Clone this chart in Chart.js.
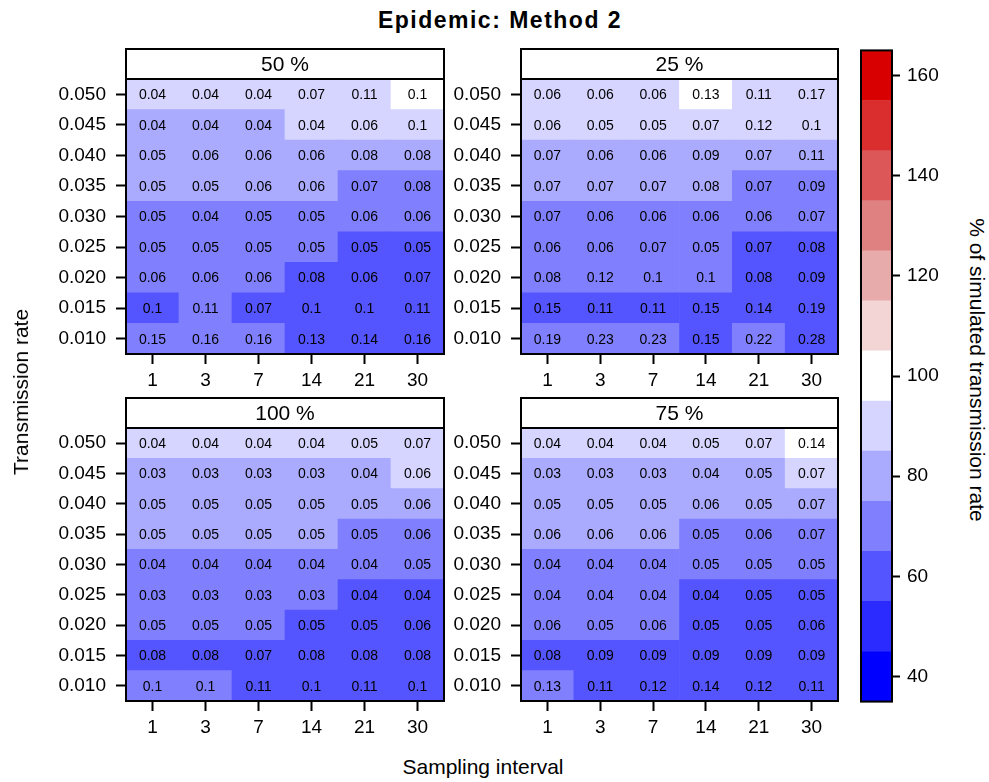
<!DOCTYPE html>
<html lang="en">
  <head>
    <meta charset="UTF-8" />
    <title>Epidemic: Method 2</title>
    <script src="https://cdn.jsdelivr.net/npm/chart.js"></script>
    <style>
      body {
        margin: 0;
        background: #fff;
        font-family: "Liberation Sans", Arial, sans-serif;
        color: #000;
      }
      #page {
        position: relative;
        width: 989px;
        height: 782px;
        overflow: hidden;
      }
      canvas,
      .txt {
        position: absolute;
      }
      .txt {
        white-space: nowrap;
        transform: translate(-50%, -50%);
      }
      #title {
        left: 500px;
        top: 20px;
        font-size: 23px;
        font-weight: bold;
        letter-spacing: 1.5px;
      }
      #xtitle {
        left: 483px;
        top: 767px;
        font-size: 21px;
      }
      #ytitle {
        left: 21px;
        top: 392px;
        font-size: 21px;
        transform: translate(-50%, -50%) rotate(-90deg);
      }
      #keytitle {
        left: 977px;
        top: 370px;
        font-size: 21px;
        transform: translate(-50%, -50%) rotate(90deg);
      }
    </style>
  </head>
  <body>
    <div id="page">
      <div class="txt" id="title">Epidemic: Method 2</div>
      <canvas id="p50" width="420" height="355" style="left: 30px; top: 44px"></canvas>
      <canvas id="p25" width="395" height="355" style="left: 450px; top: 44px"></canvas>
      <canvas id="p100" width="420" height="353" style="left: 30px; top: 393px"></canvas>
      <canvas id="p75" width="395" height="353" style="left: 450px; top: 393px"></canvas>
      <canvas id="key" width="100" height="688" style="left: 850px; top: 32px"></canvas>
      <div class="txt" id="xtitle">Sampling interval</div>
      <div class="txt" id="ytitle">Transmission rate</div>
      <div class="txt" id="keytitle">% of simulated transmission rate</div>
    </div>

    <script>
      // data
      const intervals = ["1", "3", "7", "14", "21", "30"];
      const rates = ["0.050", "0.045", "0.040", "0.035", "0.030", "0.025", "0.020", "0.015", "0.010"];
      const keyBreaks = [35, 45, 55, 65, 75, 85, 95, 105, 115, 125, 135, 145, 155, 165];
      const keyTicks = [40, 60, 80, 100, 120, 140, 160];

      // % of simulated rate (colour), rows top (0.050) to bottom (0.010)
      const pct50 = [
        [90, 90, 90, 90, 90, 100],
        [80, 80, 80, 90, 90, 90],
        [80, 80, 80, 80, 80, 80],
        [80, 80, 80, 80, 70, 70],
        [70, 70, 70, 70, 70, 70],
        [70, 70, 70, 70, 60, 60],
        [70, 70, 70, 60, 60, 60],
        [60, 70, 60, 60, 60, 60],
        [70, 70, 70, 60, 60, 60],
      ];
      const sd50 = [
        [0.04, 0.04, 0.04, 0.07, 0.11, 0.1],
        [0.04, 0.04, 0.04, 0.04, 0.06, 0.1],
        [0.05, 0.06, 0.06, 0.06, 0.08, 0.08],
        [0.05, 0.05, 0.06, 0.06, 0.07, 0.08],
        [0.05, 0.04, 0.05, 0.05, 0.06, 0.06],
        [0.05, 0.05, 0.05, 0.05, 0.05, 0.05],
        [0.06, 0.06, 0.06, 0.08, 0.06, 0.07],
        [0.1, 0.11, 0.07, 0.1, 0.1, 0.11],
        [0.15, 0.16, 0.16, 0.13, 0.14, 0.16],
      ];

      const pct25 = [
        [90, 90, 90, 100, 90, 90],
        [90, 90, 90, 90, 90, 90],
        [80, 80, 80, 80, 80, 80],
        [80, 80, 80, 80, 70, 70],
        [70, 70, 70, 70, 70, 70],
        [70, 70, 70, 70, 60, 60],
        [70, 70, 70, 70, 60, 60],
        [60, 60, 60, 60, 60, 60],
        [70, 70, 70, 60, 70, 60],
      ];
      const sd25 = [
        [0.06, 0.06, 0.06, 0.13, 0.11, 0.17],
        [0.06, 0.05, 0.05, 0.07, 0.12, 0.1],
        [0.07, 0.06, 0.06, 0.09, 0.07, 0.11],
        [0.07, 0.07, 0.07, 0.08, 0.07, 0.09],
        [0.07, 0.06, 0.06, 0.06, 0.06, 0.07],
        [0.06, 0.06, 0.07, 0.05, 0.07, 0.08],
        [0.08, 0.12, 0.1, 0.1, 0.08, 0.09],
        [0.15, 0.11, 0.11, 0.15, 0.14, 0.19],
        [0.19, 0.23, 0.23, 0.15, 0.22, 0.28],
      ];

      const pct100 = [
        [90, 90, 90, 90, 90, 90],
        [80, 80, 80, 80, 80, 90],
        [80, 80, 80, 80, 80, 80],
        [80, 80, 80, 80, 70, 70],
        [70, 70, 70, 70, 70, 70],
        [70, 70, 70, 70, 60, 60],
        [70, 70, 70, 60, 60, 60],
        [60, 60, 60, 60, 60, 60],
        [70, 70, 60, 60, 60, 60],
      ];
      const sd100 = [
        [0.04, 0.04, 0.04, 0.04, 0.05, 0.07],
        [0.03, 0.03, 0.03, 0.03, 0.04, 0.06],
        [0.05, 0.05, 0.05, 0.05, 0.05, 0.06],
        [0.05, 0.05, 0.05, 0.05, 0.05, 0.06],
        [0.04, 0.04, 0.04, 0.04, 0.04, 0.05],
        [0.03, 0.03, 0.03, 0.03, 0.04, 0.04],
        [0.05, 0.05, 0.05, 0.05, 0.05, 0.06],
        [0.08, 0.08, 0.07, 0.08, 0.08, 0.08],
        [0.1, 0.1, 0.11, 0.1, 0.11, 0.1],
      ];

      const pct75 = [
        [90, 90, 90, 90, 90, 100],
        [80, 80, 80, 80, 80, 90],
        [80, 80, 80, 80, 80, 80],
        [80, 80, 80, 70, 70, 70],
        [70, 70, 70, 70, 70, 70],
        [70, 70, 70, 60, 60, 60],
        [70, 70, 70, 60, 60, 60],
        [60, 60, 60, 60, 60, 60],
        [70, 60, 60, 60, 60, 60],
      ];
      const sd75 = [
        [0.04, 0.04, 0.04, 0.05, 0.07, 0.14],
        [0.03, 0.03, 0.03, 0.04, 0.05, 0.07],
        [0.05, 0.05, 0.05, 0.06, 0.05, 0.07],
        [0.06, 0.06, 0.06, 0.05, 0.06, 0.07],
        [0.04, 0.04, 0.04, 0.05, 0.05, 0.05],
        [0.04, 0.04, 0.04, 0.04, 0.05, 0.05],
        [0.06, 0.05, 0.06, 0.05, 0.05, 0.06],
        [0.08, 0.09, 0.09, 0.09, 0.09, 0.09],
        [0.13, 0.11, 0.12, 0.14, 0.12, 0.11],
      ];

      // one colour per key bin
      const keyColors = [
        "#0000ff", "#2b2bff", "#5555ff", "#8080ff", "#aaaaff", "#d5d5ff", "#ffffff",
        "#f3d5d5", "#e8abab", "#e08181", "#dc5757", "#da2d2d", "#d80000",
      ];

      const FONT = "'Liberation Sans', Arial, sans-serif";

      function colorFor(v) {
        for (let i = 0; i < keyColors.length; i++) {
          if (v >= keyBreaks[i] && v < keyBreaks[i + 1]) return keyColors[i];
        }
        return keyColors[keyColors.length - 1];
      }

      // frame, strip and cell text
      const panelDecor = {
        id: "panelDecor",
        afterDatasetsDraw(chart, args, opts) {
          const ctx = chart.ctx;
          const a = chart.chartArea;
          ctx.save();
          ctx.fillStyle = "#000";
          ctx.textAlign = "center";
          ctx.textBaseline = "middle";
          ctx.font = "14px " + FONT;
          chart.data.datasets.forEach((ds, di) => {
            if (!ds.cellText) return;
            chart.getDatasetMeta(di).data.forEach((bar, j) => {
              ctx.fillText(String(ds.cellText[j]), bar.x, (bar.y + bar.base) / 2 + 1);
            });
          });
          ctx.lineWidth = 2;
          ctx.strokeStyle = "#000";
          ctx.strokeRect(a.left, a.top, a.right - a.left, a.bottom - a.top);
          if (opts.title) {
            const h = 30;
            ctx.fillStyle = "#fff";
            ctx.fillRect(a.left, a.top - h, a.right - a.left, h);
            ctx.strokeRect(a.left, a.top - h, a.right - a.left, h);
            ctx.fillStyle = "#000";
            ctx.font = "21px " + FONT;
            ctx.fillText(opts.title, (a.left + a.right) / 2, a.top - h / 2 + 1);
          }
          ctx.restore();
        },
      };

      function tickGrid(len) {
        return {
          display: true,
          drawOnChartArea: false,
          drawTicks: true,
          tickLength: len,
          tickColor: "#000",
          tickWidth: 2,
          offset: false,
        };
      }

      function makePanel(id, title, pct, sd, yWidth, padRight) {
        const datasets = [];
        for (let r = rates.length - 1; r >= 0; r--) {
          datasets.push({
            data: intervals.map(() => 1),
            backgroundColor: pct[r].map(colorFor),
            cellText: sd[r],
            borderWidth: 0,
            barPercentage: 1,
            categoryPercentage: 1,
          });
        }
        new Chart(document.getElementById(id), {
          type: "bar",
          data: { labels: intervals, datasets },
          options: {
            responsive: false,
            animation: false,
            events: [],
            layout: { padding: { top: 35, right: padRight, left: 0, bottom: 0 } },
            plugins: {
              legend: { display: false },
              tooltip: { enabled: false },
              panelDecor: { title },
            },
            scales: {
              x: {
                stacked: true,
                grid: tickGrid(10),
                border: { display: false },
                ticks: { color: "#000", font: { size: 19, family: FONT }, padding: 5 },
                afterFit(s) {
                  s.height = 45;
                },
              },
              y: {
                stacked: true,
                min: 0,
                max: rates.length,
                grid: tickGrid(10),
                border: { display: false },
                ticks: {
                  color: "#000",
                  font: { size: 19, family: FONT },
                  padding: 10,
                  autoSkip: false,
                  callback: (v) => rates[rates.length - 1 - Math.floor(v)],
                },
                afterBuildTicks(s) {
                  s.ticks = rates.map((_, i) => ({ value: i + 0.5 }));
                },
                afterFit(s) {
                  s.width = yWidth;
                },
              },
            },
          },
          plugins: [panelDecor],
        });
      }

      makePanel("p50", "50 %", pct50, sd50, 96, 6);
      makePanel("p25", "25 %", pct25, sd25, 71, 7);
      makePanel("p100", "100 %", pct100, sd100, 96, 6);
      makePanel("p75", "75 %", pct75, sd75, 71, 7);

      // colour key
      new Chart(document.getElementById("key"), {
        type: "bar",
        data: {
          labels: [""],
          datasets: keyColors.map((c, i) => ({
            data: [[keyBreaks[i], keyBreaks[i + 1]]],
            backgroundColor: c,
            borderWidth: 0,
            grouped: false,
            barPercentage: 1,
            categoryPercentage: 1,
          })),
        },
        options: {
          responsive: false,
          animation: false,
          events: [],
          layout: { padding: { top: 10, left: 11, right: 0, bottom: 17 } },
          plugins: { legend: { display: false }, tooltip: { enabled: false }, panelDecor: {} },
          scales: {
            x: { display: false },
            y: {
              position: "right",
              min: keyBreaks[0],
              max: keyBreaks[keyBreaks.length - 1],
              grid: tickGrid(8),
              border: { display: false },
              ticks: { color: "#000", font: { size: 19, family: FONT }, padding: 7 },
              afterBuildTicks(s) {
                s.ticks = keyTicks.map((v) => ({ value: v }));
              },
              afterFit(s) {
                s.width = 58;
              },
            },
          },
        },
        plugins: [panelDecor],
      });
    </script>
  </body>
</html>
